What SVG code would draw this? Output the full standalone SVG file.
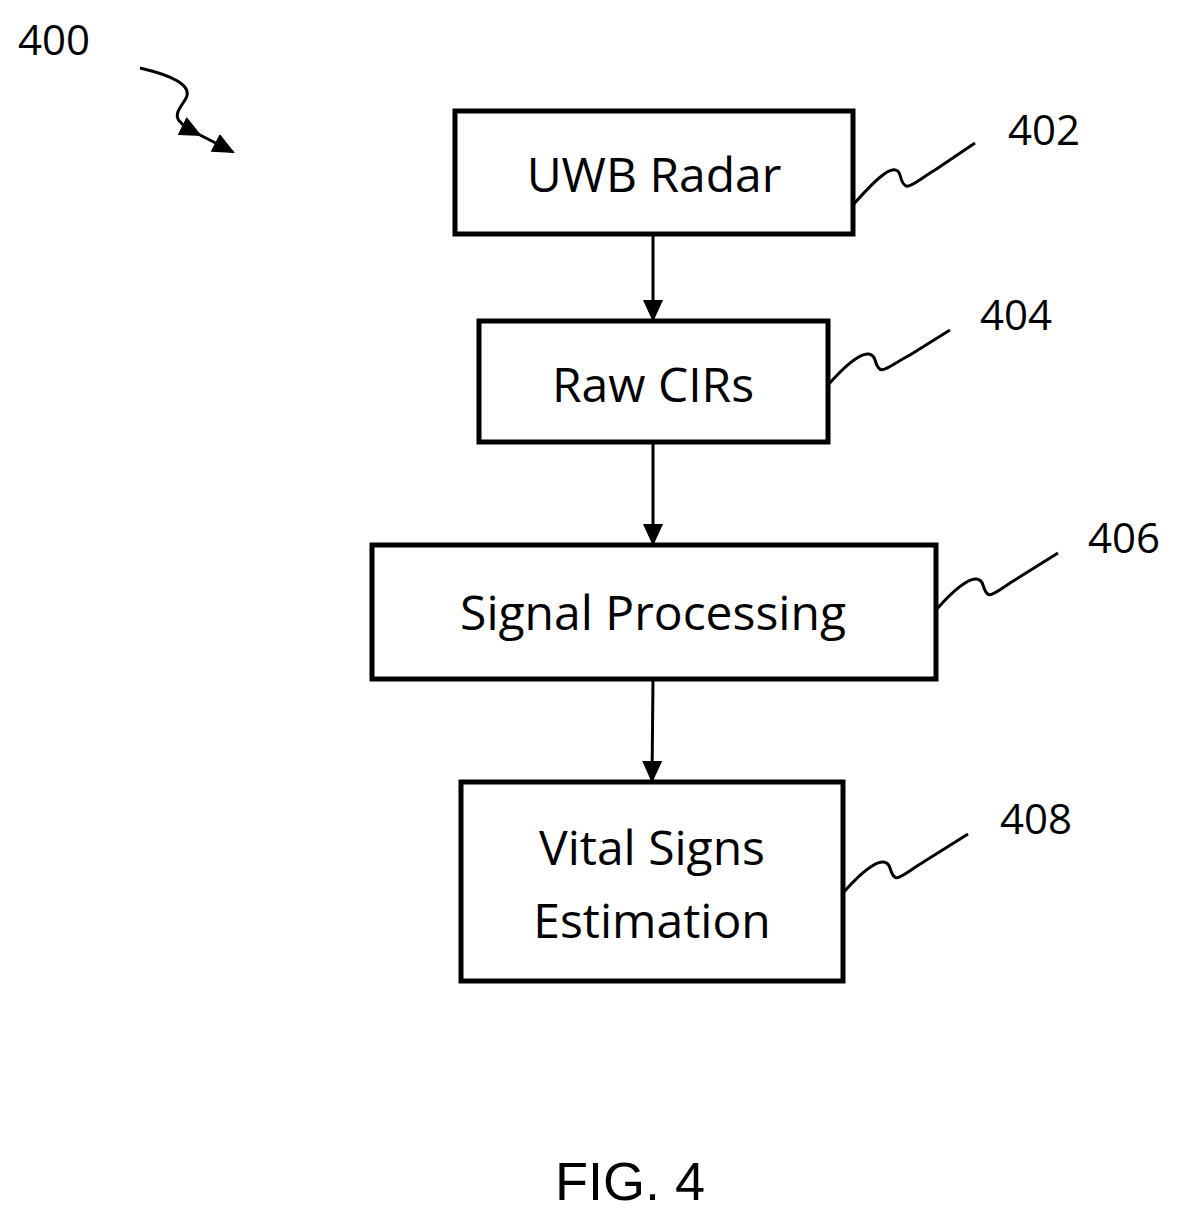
<svg xmlns="http://www.w3.org/2000/svg" width="1192" height="1213" viewBox="0 0 1192 1213">
<style>
.box{fill:#fff;stroke:#000;stroke-width:5}
.t{font-family:"Open Sans","Liberation Sans",sans-serif;font-size:48px;text-anchor:middle}
.n{font-family:"Open Sans","Liberation Sans",sans-serif;font-size:42px}
.ln{fill:none;stroke:#000;stroke-width:3}
</style>
<defs><marker id="ah" markerWidth="10" markerHeight="10" refX="9" refY="5" orient="auto" markerUnits="userSpaceOnUse" viewBox="0 0 10 10"><path d="M0,0L10,5L0,10z" fill="#000"/></marker>
<marker id="ah2" markerWidth="22" markerHeight="20" refX="20" refY="10" orient="auto" markerUnits="userSpaceOnUse"><path d="M0,0L22,10L0,20z" fill="#000"/></marker></defs>
<rect width="1192" height="1213" fill="#fff"/>
<text class="n" x="18" y="55">400</text>
<g id="connectors">
<path class="ln" d="M140,68 C170,75 195,85 185,100 C175,115 170,120 200,135" marker-end="url(#ah2)"/>
<path class="ln" d="M200,135 L233,152" marker-end="url(#ah2)"/>
<line class="ln" x1="653" y1="234" x2="653" y2="320" marker-end="url(#ah2)"/>
<line class="ln" x1="653" y1="442" x2="653" y2="544" marker-end="url(#ah2)"/>
<line class="ln" x1="653" y1="679" x2="652" y2="781" marker-end="url(#ah2)"/>
<path class="ln" d="M853,205 C875,180 895,160 900,175 C905,195 910,185 935,170 L975,143"/>
<path class="ln" d="M828,385 C850,360 870,345 875,360 C880,378 885,368 910,355 L950,330"/>
<path class="ln" d="M936,610 C958,585 978,570 983,585 C988,603 993,593 1018,578 L1058,553"/>
<path class="ln" d="M843,893 C865,868 885,853 890,868 C895,886 900,876 925,861 L968,834"/>
</g>
<g id="n402"><rect class="box" x="455" y="111" width="398" height="123"/><text class="t" x="654" y="192">UWB Radar</text><text class="n" x="1008" y="145">402</text></g>
<g id="n404"><rect class="box" x="479" y="321" width="349" height="121"/><text class="t" x="653" y="402">Raw CIRs</text><text class="n" x="980" y="330">404</text></g>
<g id="n406"><rect class="box" x="372" y="545" width="564" height="134"/><text class="t" x="653" y="630">Signal Processing</text><text class="n" x="1088" y="553">406</text></g>
<g id="n408"><rect class="box" x="461" y="782" width="382" height="199"/><text class="t" x="652" y="865">Vital Signs</text><text class="t" x="652" y="938">Estimation</text><text class="n" x="1000" y="834">408</text></g>
<text x="630" y="1200" font-family="Liberation Sans,Arial,sans-serif" font-size="54" text-anchor="middle">FIG. 4</text>
</svg>
